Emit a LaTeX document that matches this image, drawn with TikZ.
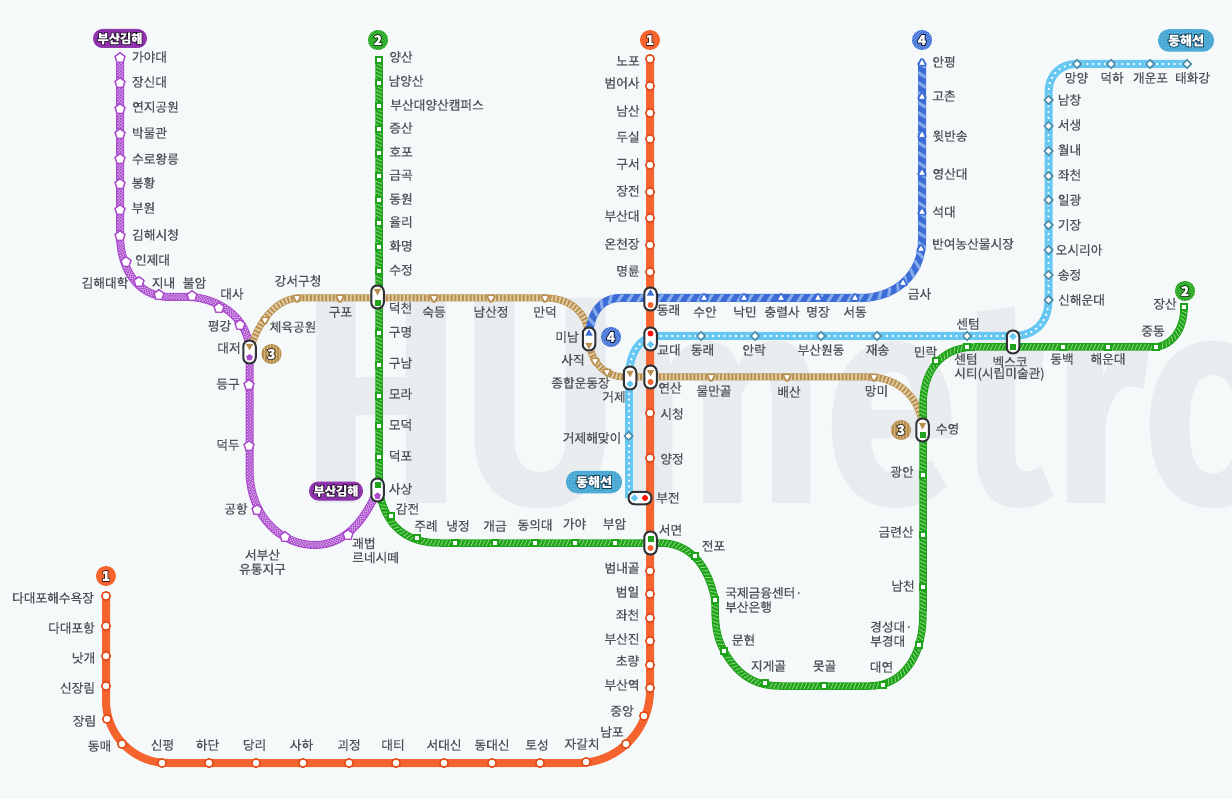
\documentclass[tikz,border=0pt]{standalone}
\usepackage{fontspec}
\usepackage{graphicx}
\usetikzlibrary{calc,shapes.geometric,shapes.misc,decorations.markings,patterns}
\setmainfont{Noto Sans CJK KR}[FakeBold=0.5]
\newfontfamily\halofont{Noto Sans CJK KR}[BoldFeatures={FakeBold=14}]
\newfontfamily\wmfont{Fira Sans}
\definecolor{bgc}{HTML}{F5F9FA}
\definecolor{wmc}{HTML}{E8ECEF}
\definecolor{txt}{HTML}{505458}
\definecolor{cOne}{HTML}{F5642F}
\definecolor{cOneD}{HTML}{DF4A18}
\definecolor{cTwo}{HTML}{1FA31B}
\definecolor{cTwoL}{HTML}{8FD880}
\definecolor{cThr}{HTML}{B88E4E}
\definecolor{cThrL}{HTML}{E0CBA0}
\definecolor{cFou}{HTML}{3C6CD6}
\definecolor{cFouL}{HTML}{86ABEA}
\definecolor{cDon}{HTML}{66C8F2}
\definecolor{cDonD}{HTML}{4C8CA8}
\definecolor{cDonT}{HTML}{4AA6D0}
\definecolor{cDonH}{HTML}{0C3A54}
\definecolor{cGim}{HTML}{AB4CCE}
\definecolor{cGimD}{HTML}{8A2FA8}
\definecolor{cPill}{HTML}{2F3236}
\pgfdeclarelayer{bgl}\pgfdeclarelayer{lin}\pgfsetlayers{bgl,lin,main}
\newcommand{\halotxt}[2]{\rlap{\color{#1}\halofont\bfseries #2}{\color{white}\bfseries #2}}
\tikzset{
  x=1pt,y=-1pt,
  lab/.style={inner sep=0pt,yshift=-1pt,text=txt,font=\fontsize{12.7}{15}\selectfont,text height=11,text depth=1.5},
  mlab/.style={inner sep=0pt,yshift=-1pt,text=txt,font=\fontsize{12.7}{14.2}\selectfont,align=left,anchor=west},
  clab/.style={mlab,align=center,anchor=center},
  lineOne/.style={draw=cOne,line width=8},
  lineTwo/.style={draw=cTwo,line width=7.5,postaction={decorate,decoration={markings,mark=between positions 1pt and 1 step 3.8pt with {\draw[cTwoL,line width=.8] (-1.4,2.8)--(1.4,-2.8);}}}},
  lineThr/.style={draw=cThr,line width=7,postaction={draw=cThrL,line width=6,dash pattern=on 1.8 off 2}},
  lineFou/.style={draw=cFou,line width=8,postaction={decorate,decoration={markings,mark=between positions 2pt and 1 step 10pt with {\draw[cFouL,line width=3] (-2.5,3.9)--(2.5,-3.9);}}}},
  lineDon/.style={draw=cDon,line width=8,postaction={draw=white,line width=1.8,dash pattern=on 1.8 off 4}},
  lineGim/.style={draw=cGim,line width=8,postaction={decorate,decoration={markings,mark=between positions 1pt and 1 step 3pt with {\fill[white!60!cGim] (-.6,-3)rectangle(.6,-1.8) (-.6,0)rectangle(.6,1.2);\fill[white!60!cGim] (.9,-1.5)rectangle(2.1,-.3) (.9,1.5)rectangle(2.1,2.7);}}}},
  stOne/.style={circle,draw=cOneD,fill=white,line width=1.5,minimum size=8.5,inner sep=0},
  stTwo/.style={rectangle,draw=cTwo,fill=white,line width=1.6,minimum size=6.5,inner sep=0},
  stThr/.style={regular polygon,regular polygon sides=3,shape border rotate=180,draw=cThr,fill=white,line width=1.7,minimum size=10.5,inner sep=0,rounded corners=1.6},
  stFou/.style={regular polygon,regular polygon sides=3,draw=cFou,fill=white,line width=1.7,minimum size=10.5,inner sep=0,rounded corners=1.6},
  stDon/.style={diamond,draw=cDonD,fill=white,line width=1.5,minimum size=9,inner sep=0},
  stGim/.style={regular polygon,regular polygon sides=5,draw=cGim,fill=white,line width=1.4,minimum size=10.5,inner sep=0},
  pillV/.style={rectangle,rounded corners=6,draw=cPill,fill=white,line width=2,minimum width=12.5,minimum height=23,inner sep=0},
  pillH/.style={rectangle,rounded corners=6,draw=cPill,fill=white,line width=2,minimum width=23,minimum height=12.5,inner sep=0},
  mTh/.style={regular polygon,regular polygon sides=3,shape border rotate=180,fill=cThr,minimum size=8.5,inner sep=0},
  mFo/.style={regular polygon,regular polygon sides=3,fill=cFou,minimum size=8.5,inner sep=0},
  mTw/.style={rectangle,fill=cTwo,minimum size=6,inner sep=0},
  mOn/.style={circle,fill=cOne,minimum size=6,inner sep=0},
  mRe/.style={circle,fill=red!85!cOne,minimum size=6,inner sep=0},
  mDo/.style={diamond,fill=cDon,minimum size=7.5,inner sep=0},
  mGi/.style={regular polygon,regular polygon sides=5,fill=cGim,minimum size=7,inner sep=0},
  badge/.style={circle,minimum size=20,inner sep=0,font=\fontsize{13.5}{13.5}\selectfont},
  tagG/.style={rectangle,rounded corners=9.5,minimum width=54,minimum height=19,inner sep=0,font=\fontsize{12.2}{14}\selectfont,preaction={fill=cGimD},pattern=crosshatch dots,pattern color=cGim},
  tagD/.style={rectangle,rounded corners=11,minimum width=56,minimum height=22.5,inner sep=0,font=\fontsize{13}{14}\selectfont,preaction={fill=cDonT},pattern=crosshatch dots,pattern color=cDon},
}
\begin{document}
\begin{tikzpicture}
\useasboundingbox (0,0) rectangle (1232,799);
\begin{pgfonlayer}{bgl}
\fill[bgc] (0,0) rectangle (1232,799);
\node[inner sep=0,anchor=base west,text=wmc,font=\wmfont\bfseries\fontsize{296}{296}\selectfont] (wm) at (300,503) {\scalebox{0.82}[1]{HUmetro}};
\end{pgfonlayer}
% Busan-Gimhae stations
\foreach \n/\x/\y in {g1/120/58,g2/120/83,g3/120/109,g4/120/134,g5/120/159,g6/120/184,g7/120/210,g8/120/236,g9/126/262,g10/139/282,g11/159/295,g12/192/296,g13/219/308,g14/240/325,g16/249/385,g17/249/446,g18/257/510,g19/285/537,g20/348/535}
  \node[stGim] (\n) at (\x,\y) {};
% Line 1
\foreach \n/\x/\y in {a1/650/59,a2/650/86,a3/650/113,a4/650/139,a5/650/165,a6/650/192,a7/650/218,a8/650/245,a9/650/272,a13/650/413,a14/650/458,a17/650/571,a18/650/594,a19/650/618,a20/650/641,a21/650/665,a22/650/688,a23/644/716,a24/626/744,a25/586/762,a26/540/763,a27/492/763,a28/444/763,a29/396/763,a30/349/763,a31/303/763,a32/256/763,a33/209/763,a34/162/763,a35/122/744,a36/107/719,a37/106/686,a38/106/656,a39/106/626,a40/106/596}
  \node[stOne] (\n) at (\x,\y) {};
% Line 2
\foreach \n/\x/\y in {b1/379/60,b2/379/83,b3/379/106,b4/379/129,b5/379/153,b6/379/176,b7/379/200,b8/379/223,b9/379/247,b10/379/271,b12/379/333,b13/379/365,b14/379/396,b15/379/426,b16/379/457,b18/391/516,b19/417/538,b20/455/543,b21/495/543,b22/535/543,b23/575/543,b24/615/543,b26/695/556,b27/715/600,b28/724/651,b29/765/683,b30/824/686,b31/883/685,b32/919/645,b33/923/587,b34/923/535,b35/923/475,b37/936/361,b38/967/347,b40/1063/347,b41/1108/347,b42/1156/347,b43/1184/307}
  \node[stTwo] (\n) at (\x,\y) {};
% Line 3
\foreach \n/\x/\y in {c2/265/320,c3/297/298,c4/340/298,c6/434/298,c7/491/298,c8/545/298,c10/595/361,c11/607/372,c13/711/377,c14/787/377,c15/874/377}
  \node[stThr] (\n) at (\x,\y) {};
% Line 4
\foreach \n/\x/\y in {d1/922/63,d2/922/97,d3/922/135,d4/922/173,d5/922/212,d6/921/249,d7/903/283,d8/855/298,d9/818/298,d10/781/298,d11/744/298,d12/704/298}
  \node[stFou] (\n) at (\x,\y) {};
% Donghae
\foreach \n/\x/\y in {e1/1187/64,e2/1150/64,e3/1111/64,e4/1077/64,e5/1048.5/100,e6/1048.5/126,e7/1048.5/151,e8/1048.5/176,e9/1048.5/200,e10/1048.5/225,e11/1048.5/250,e12/1048.5/275,e13/1048.5/300,e15/967/336,e16/877/336,e17/821/336,e18/755/336,e19/701/336,e22/628.5/436}
  \node[stDon] (\n) at (\x,\y) {};
% interchanges
\node[pillV] (xDeokcheon) at (377.5,297) {};
\node[mTh] (m1) at ($(xDeokcheon)+(0,-6)$) {};
\node[mTw] (m2) at ($(xDeokcheon)+(0,6)$) {};
\node[pillV] (xDaejeo) at (249.5,352) {};
\node[mTh] (m3) at ($(xDaejeo)+(0,-6)$) {};
\node[mGi] (m4) at ($(xDaejeo)+(0,5.5)$) {};
\node[pillV] (xSasang) at (377.5,490) {};
\node[mTw] (m5) at ($(xSasang)+(0,-5.5)$) {};
\node[mGi] (m6) at ($(xSasang)+(0,6)$) {};
\node[pillV] (xMinam) at (589,339) {};
\node[mFo] (m7) at ($(xMinam)+(0,-5.5)$) {};
\node[mTh] (m8) at ($(xMinam)+(0,6)$) {};
\node[pillV] (xDongnae) at (650.5,299) {};
\node[mFo] (m9) at ($(xDongnae)+(0,-5.5)$) {};
\node[mOn] (m10) at ($(xDongnae)+(0,6)$) {};
\node[pillV] (xGyodae) at (650.5,339) {};
\node[mRe] (m11) at ($(xGyodae)+(0,-5.5)$) {};
\node[mDo] (m12) at ($(xGyodae)+(0,5.5)$) {};
\node[pillV] (xGeoje) at (630,378) {};
\node[mTh] (m13) at ($(xGeoje)+(0,-5)$) {};
\node[mDo] (m14) at ($(xGeoje)+(0,6)$) {};
\node[pillV] (xYeonsan) at (650.5,377) {};
\node[mTh] (m15) at ($(xYeonsan)+(0,-5)$) {};
\node[mOn] (m16) at ($(xYeonsan)+(0,5)$) {};
\node[pillH] (xBujeon) at (640,498) {};
\node[mDo] (m17) at ($(xBujeon)+(-5.5,0)$) {};
\node[mRe] (m18) at ($(xBujeon)+(5,0)$) {};
\node[pillV] (xSeomyeon) at (650.5,543) {};
\node[mTw] (m19) at ($(xSeomyeon)+(0,-4.5)$) {};
\node[mOn] (m20) at ($(xSeomyeon)+(0,5)$) {};
\node[pillV] (xSuyeong) at (922.5,430) {};
\node[mTh] (m21) at ($(xSuyeong)+(0,-5)$) {};
\node[mTw] (m22) at ($(xSuyeong)+(0,5)$) {};
\node[pillV] (xBexco) at (1013,342) {};
\node[mDo] (m23) at ($(xBexco)+(0,-5.5)$) {};
\node[mTw] (m24) at ($(xBexco)+(0,5)$) {};
% lines
\begin{pgfonlayer}{lin}
\draw[lineGim] (g1.center) -- (120,235) .. controls (120,265) and (135,297) .. (170,297) -- (190,297) .. controls (215,298) and (249,315) .. (xDaejeo.center) -- (249.5,470) .. controls (249.5,515) and (280,545) .. (315,545) .. controls (345,545) and (365,520) .. (xSasang.center);
\draw[lineThr] (xDaejeo.center) .. controls (255,330) and (272,298) .. (300,298) -- (545,298) .. controls (575,298) and (589,318) .. (xMinam.center) .. controls (589,355) and (600,377) .. (625,377) -- (868,377) .. controls (900,377) and (922,400) .. (xSuyeong.center);
\draw[lineFou] (d1.center) -- (922,240) .. controls (922,275) and (895,298) .. (860,298) -- (620,298) .. controls (600,298) and (589,315) .. (xMinam.center);
\draw[lineDon] (e1.center) -- (e4.center) .. controls (1060,64) and (1048.5,75) .. (1048.5,93) -- (e13.center) .. controls (1048.5,322) and (1035,336) .. (1013,336) -- (660,336) .. controls (640,336) and (629,352) .. (629,378) -- (629,498);
\draw[lineTwo] (b1.center) -- (379,490) .. controls (385,525) and (405,543) .. (440,543) -- (660,543) .. controls (690,543) and (708,565) .. (b27.center) .. controls (715,625) and (716,636) .. (b28.center) .. controls (735,670) and (750,686) .. (780,686) -- (870,686) .. controls (895,686) and (912,668) .. (b32.center) .. controls (922,632) and (923,625) .. (923,610) -- (923,405) .. controls (923,372) and (940,347) .. (975,347) -- (b42.center) .. controls (1172,345) and (1184,330) .. (b43.center);
\draw[lineOne] (a1.center) -- (650,690) .. controls (650,730) and (618,763) .. (578,763) -- (168,763) .. controls (133,763) and (106,735) .. (106,700) -- (a40.center);
\end{pgfonlayer}
% badges
\node[badge,fill=cOne] (bA) at (650,40) {\halotxt{black!70!cOne}{1}};
\node[badge,fill=cOne] (bB) at (106,576) {\halotxt{black!70!cOne}{1}};
\node[badge,preaction={fill=cTwo},pattern=north east lines,pattern color=cTwoL!60!cTwo] (bC) at (378,40) {\halotxt{black!70!cTwo}{2}};
\node[badge,preaction={fill=cTwo},pattern=north east lines,pattern color=cTwoL!60!cTwo] (bD) at (1185,291) {\halotxt{black!70!cTwo}{2}};
\node[badge,preaction={fill=cThr},pattern=vertical lines,pattern color=cThrL!60!cThr] (bE) at (271.5,354) {\halotxt{black!70!cThr}{3}};
\node[badge,preaction={fill=cThr},pattern=vertical lines,pattern color=cThrL!60!cThr] (bF) at (901,430) {\halotxt{black!70!cThr}{3}};
\node[badge,preaction={fill=cFou},pattern=north east lines,pattern color=cFouL] (bG) at (922,40) {\halotxt{black!75!cFou}{4}};
\node[badge,preaction={fill=cFou},pattern=north east lines,pattern color=cFouL] (bH) at (611,337) {\halotxt{black!75!cFou}{4}};
% tags
\node[tagG] (tA) at (120,38.5) {\halotxt{black!80!cGimD}{부산김해}};
\node[tagG] (tB) at (336,491) {\halotxt{black!80!cGimD}{부산김해}};
\node[tagD] (tC) at (1186,40.5) {\halotxt{cDonH}{동해선}};
\node[tagD] (tD) at (594,482) {\halotxt{cDonH}{동해선}};
% labels
\foreach \x/\y/\t [count=\i] in {
149.5/56/가야대,149.5/81/장신대,155.5/106/연지공원,149.5/132/박물관,155.5/158/수로왕릉,143.5/182/봉황,143.5/207/부원,155.5/234/김해시청,152.5/259/인제대,105/282/김해대학,163.5/282/지내,194.5/282/불암,232/293/대사,219.5/325/평강,229/347/대저,228/383/등구,228/444/덕두,236/508/공항,
298/280/강서구청,293/326/체육공원,340.5/311/구포,434/311/숙등,491/311/남산정,545/311/만덕,567/336/미남,573/359/사직,580.5/382/종합운동장,614/396/거제,714/390/물만골,789/391/배산,876.5/390/망미,947.5/428/수영,
401/56/양산,406/80/남양산,437/104/부산대양산캠퍼스,401/127/증산,401/151/호포,401/174/금곡,401/198/동원,401/221/율리,401/245/화명,401/269/수정,400.5/307/덕천,400.5/331/구명,400.5/362/구남,400.5/393/모라,400.5/424/모덕,400.5/455/덕포,400.5/488/사상,407.5/508/감전,426/525/주례,458/525/냉정,495/525/개금,535/524/동의대,574.5/523/가야,614.5/523/부암,670.5/529/서면,713.5/545/전포,743.5/639/문현,768.5/665/지게골,824.5/665/못골,881.5/666/대연,903/585/남천,896/531/금련산,902/471/광안,925.5/351/민락,1010/361/벡스코,1062/358/동백,1108/358/해운대,1153/330/중동,1165/303/장산,
944/61/안평,944/95/고촌,950/135/윗반송,950/173/영산대,944/211/석대,973/243/반여농산물시장,919.5/293/금사,855/311/서동,818/311/명장,782/311/충렬사,745/311/낙민,705/311/수안,668.5/309/동래,
1192.5/77/태화강,1150.5/77/개운포,1112/77/덕하,1076.5/77/망양,1069.5/99/남창,1069.5/124/서생,1069.5/149/월내,1069.5/174/좌천,1069.5/199/일광,1069.5/224/기장,1079/249/오시리아,1069.5/274/송정,1081.5/299/신해운대,968/323/센텀,877.5/349/재송,821/349/부산원동,754/349/안락,702.5/349/동래,669/349/교대,592/437/거제해맞이,668/497/부전,
628/60/노포,622/82/범어사,628/110/남산,628/136/두실,628/163/구서,628/190/장전,622/215/부산대,622/243/온천장,628/270/명륜,670/387/연산,672/413/시청,672/458/양정,622/567/범내골,627.5/591/범일,627.5/614/좌천,622/638/부산진,627.5/660/초량,622/684/부산역,622/710/중앙,612/731/남포,582/743/자갈치,537/744/토성,492/744/동대신,444/744/서대신,393/744/대티,349/744/괴정,301.5/744/사하,254.5/744/당리,207.5/744/하단,162.5/744/신평,99.5/745/동매,84.5/720/장림,77.5/687/신장림,83.5/657/낫개,71.5/627/다대포항,53/597/다대포해수욕장}
  \node[lab] (L\i) at (\x,\y) {\t};
\node[clab] (Lm1) at (262.5,561) {서부산\\유통지구};
\node[mlab] (Lm2) at (352,549.5) {괘법\\르네시떼};
\node[mlab] (Lm3) at (725,599) {국제금융센터·\\부산은행};
\node[mlab] (Lm4) at (870,633) {경성대·\\부경대};
\node[mlab] (Lm5) at (954,366) {센텀\\시티(시립미술관)};
\end{tikzpicture}
\end{document}
